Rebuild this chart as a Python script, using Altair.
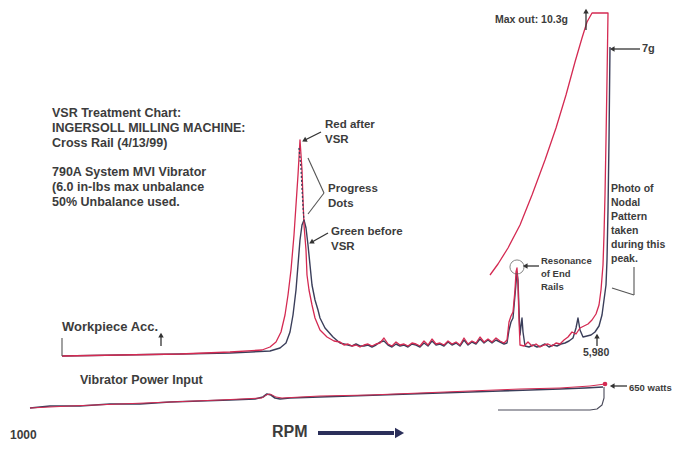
import math
import altair as alt
import pandas as pd

RED = "#d42a52"
DARK = "#3a3e5a"
INK = "#3c3c3c"
GREY = "#555555"

# ---------------- Workpiece acceleration, red trace (after VSR) ----------------
red_acc_x = [62, 120, 180, 230, 262, 270, 276, 281, 285, 288, 291, 294, 296, 298, 300,
             302, 303, 304, 306, 307, 309, 312, 315, 320, 327, 334,
             340, 344, 348, 352, 356, 360, 364, 368, 372, 376, 380, 384, 388, 392, 396, 400,
             404, 408, 412, 416, 420, 424, 428, 432, 436, 440, 444, 448, 452, 456, 460, 464,
             468, 472, 476, 480, 484, 488, 492, 496, 500, 504,
             507, 509, 511, 513, 515, 516, 517, 518, 519, 520, 524, 528, 532, 536, 540, 544,
             548, 552, 556, 560, 564, 568, 572, 576, 580, 584, 588, 592, 596, 599, 601, 603,
             604, 605, 606, 607, 608,
             592, 587, 582, 575, 566, 556, 545, 532, 520, 508, 498, 490]
red_acc_y = [356, 355, 354, 352, 350, 347, 342, 332, 315, 295, 270, 235, 205, 175, 140,
             170, 200, 225, 250, 275, 290, 305, 318, 330, 337, 341,
             342, 345, 344, 346, 345, 347, 345, 344, 346, 344, 343, 338, 344, 346, 342, 345,
             344, 346, 343, 344, 346, 341, 345, 339, 344, 343, 345, 341, 344, 342, 345, 338,
             344, 341, 343, 337, 342, 339, 342, 338, 341, 343,
             340, 322, 316, 312, 290, 272, 268, 285, 320, 345, 346, 342, 346, 344, 347, 345,
             344, 346, 343, 344, 340, 337, 332, 334, 328, 326, 324, 320, 314, 305, 290, 265,
             235, 195, 140, 80, 13,
             13, 22, 38, 62, 95, 128, 160, 195, 225, 248, 264, 275]

# ---------------- Workpiece acceleration, dark trace (before VSR) ----------------
dark_acc_x = [62, 120, 180, 230, 270, 280, 286, 290, 293, 296, 298, 300, 302, 304,
              306, 308, 310, 312, 315, 318, 320, 325, 333,
              340, 344, 348, 352, 356, 360, 364, 368, 372, 376, 380, 384, 388, 392, 396, 400,
              404, 408, 412, 416, 420, 424, 428, 432, 436, 440, 444, 448, 452, 456, 460, 464,
              468, 472, 476, 480, 484, 488, 492, 496, 500, 504,
              507, 509, 511, 513, 515, 517, 518, 519, 520, 521, 522, 523, 525, 529, 533, 537,
              541, 545, 549, 553, 557, 561, 565, 569, 573, 576, 578, 580, 583, 587, 591, 595,
              599, 602, 604, 606, 607, 608, 609, 610]
dark_acc_y = [356, 355, 354, 353, 351, 348, 343, 332, 315, 290, 265, 240, 225, 220,
              228, 245, 265, 285, 300, 310, 318, 328, 337,
              343, 344, 345, 346, 344, 346, 346, 345, 347, 345, 342, 341, 345, 347, 344, 346,
              345, 347, 344, 345, 347, 343, 346, 341, 345, 344, 346, 342, 345, 343, 346, 340,
              345, 342, 344, 339, 343, 340, 343, 340, 342, 344,
              343, 330, 322, 318, 295, 272, 280, 310, 335, 326, 318, 332, 346, 347, 345, 347,
              346, 344, 347, 345, 346, 344, 343, 341, 338, 328, 318, 330, 337, 336, 335, 332,
              326, 315, 300, 285, 260, 210, 140, 47]

# progress dots along the red peak
dots_x = [299, 301, 302, 303, 304]
dots_y = [148, 168, 188, 206, 222]

# ---------------- Vibrator power input ----------------
red_pw_x = [30, 70, 120, 170, 220, 262, 266, 270, 276, 282, 320, 370, 420, 470, 520, 560, 590, 605]
red_pw_y = [408, 406, 404, 402, 400, 398, 395, 394, 397, 398, 396, 395, 393, 391, 389, 388, 386, 384]
dark_pw_x = [30, 50, 80, 110, 140, 170, 200, 230, 255, 263, 267, 271, 275, 280, 290, 320, 350,
             380, 410, 440, 470, 500, 530, 560, 585, 603]
dark_pw_y = [408, 406, 406, 404, 404, 402, 401, 400, 399, 397, 394, 395, 398, 399, 398, 397, 396,
             395, 394, 393, 392, 391, 390, 389, 388, 387]
hook_x = [604, 604, 602, 597, 590, 498]
hook_y = [387, 398, 405, 409, 410, 410]

# ---------------- Labels ----------------
label_text = ["VSR Treatment Chart:", "INGERSOLL MILLING MACHINE:", "Cross Rail (4/13/99)",
              "790A System MVI Vibrator", "(6.0 in-lbs max unbalance", "50% Unbalance used.",
              "Red after", "VSR", "Progress", "Dots", "Green before", "VSR",
              "Max out: 10.3g", "7g",
              "Photo of", "Nodal", "Pattern", "taken", "during this", "peak.",
              "Resonance", "of End", "Rails",
              "Workpiece Acc.", "5,980", "Vibrator Power Input", "650 watts", "RPM", "1000"]
label_x = [52, 52, 52, 52, 52, 52,
           325, 325, 328, 328, 331, 331,
           495, 642,
           611, 611, 611, 611, 611, 611,
           541, 541, 541,
           62, 583, 80, 629, 272, 10]
label_y = [113, 128, 143, 172, 187, 202,
           125, 140, 189, 204, 232, 247,
           20, 49,
           189, 203, 217, 231, 245, 259,
           261, 274, 287,
           327, 353, 380, 388, 432, 435]
label_size = [12.5, 12.5, 12.5, 12.5, 12.5, 12.5,
              11.5, 11.5, 11.5, 11.5, 11.5, 11.5,
              10.5, 11,
              10.5, 10.5, 10.5, 10.5, 10.5, 10.5,
              9.5, 9.5, 9.5,
              13, 10.5, 12.5, 9.5, 16, 12]

# plain annotation segments (brackets, braces)
seg_x0 = [62, 308, 324, 634, 634]
seg_y0 = [338, 158, 193, 267, 295]
seg_x1 = [62, 324, 308, 634, 612]
seg_y1 = [356, 193, 214, 295, 288]

# arrows: shaft start -> head
arrow_x0 = [321, 328, 161, 586, 640, 539, 597, 627]
arrow_y0 = [132, 233, 346, 30, 49, 266, 346, 386]
arrow_x1 = [305, 312, 161, 586, 613, 526, 597, 613]
arrow_y1 = [140, 242, 336, 12, 49, 266, 337, 386]

# ---------------- Build ----------------
xs = alt.Scale(domain=[8, 672], nice=False, zero=False)
ys = alt.Scale(domain=[8, 442], nice=False, zero=False, reverse=True)
X = alt.X("x:Q", scale=xs, axis=None)
Y = alt.Y("y:Q", scale=ys, axis=None)


def path(xv, yv):
    return pd.DataFrame({"x": xv, "y": yv, "i": list(range(len(xv)))})


def line(xv, yv, color, width, dash=None):
    kw = dict(color=color, strokeWidth=width, strokeJoin="round", clip=False)
    if dash is not None:
        kw["strokeDash"] = dash
    return alt.Chart(path(xv, yv)).mark_line(**kw).encode(x=X, y=Y, order="i:Q")


def head_angle(x0, y0, x1, y1):
    return (math.degrees(math.atan2(x1 - x0, -(y1 - y0))) + 360) % 360


layers = []
layers.append(line(dark_pw_x, dark_pw_y, DARK, 1.7))
layers.append(line(red_pw_x, red_pw_y, RED, 1.0))
layers.append(line(hook_x, hook_y, "#4a4a5a", 1.1))
layers.append(line(dark_acc_x, dark_acc_y, DARK, 1.4))
layers.append(line(red_acc_x, red_acc_y, RED, 1.3))
layers.append(line(dots_x, dots_y, DARK, 1.3, [2, 2]))

dot_df = pd.DataFrame({"x": [red_pw_x[-1]], "y": [red_pw_y[-1]]})
layers.append(alt.Chart(dot_df).mark_point(filled=True, color=RED, size=22, opacity=1).encode(x=X, y=Y))

circ_df = pd.DataFrame({"x": [517], "y": [267]})
layers.append(alt.Chart(circ_df).mark_point(shape="circle", filled=False, color=GREY,
                                             size=200, strokeWidth=1).encode(x=X, y=Y))

seg_df = pd.DataFrame({"x": seg_x0, "y": seg_y0, "x2": seg_x1, "y2": seg_y1})
layers.append(alt.Chart(seg_df).mark_rule(color=GREY, strokeWidth=1.1).encode(
    x=X, y=Y, x2="x2:Q", y2="y2:Q"))

arr_df = pd.DataFrame({"x": arrow_x0, "y": arrow_y0, "x2": arrow_x1, "y2": arrow_y1})
layers.append(alt.Chart(arr_df).mark_rule(color="#333333", strokeWidth=1.3).encode(
    x=X, y=Y, x2="x2:Q", y2="y2:Q"))
head_df = pd.DataFrame({"x": arrow_x1, "y": arrow_y1,
                        "a": [head_angle(a, b, c, d) for a, b, c, d in
                              zip(arrow_x0, arrow_y0, arrow_x1, arrow_y1)]})
layers.append(alt.Chart(head_df).mark_point(shape="triangle", filled=True, color="#333333",
                                             size=30, opacity=1).encode(
    x=X, y=Y, angle=alt.Angle("a:Q", scale=None)))

# RPM arrow
rpm_df = pd.DataFrame({"x": [318], "y": [433], "x2": [394], "y2": [433]})
layers.append(alt.Chart(rpm_df).mark_rule(color="#2b2f5a", strokeWidth=4).encode(
    x=X, y=Y, x2="x2:Q", y2="y2:Q"))
rpm_head = pd.DataFrame({"x": [398], "y": [433], "a": [90]})
layers.append(alt.Chart(rpm_head).mark_point(shape="triangle", filled=True, color="#2b2f5a",
                                              size=110, opacity=1).encode(
    x=X, y=Y, angle=alt.Angle("a:Q", scale=None)))

lbl_df = pd.DataFrame({"x": label_x, "y": label_y, "t": label_text, "s": label_size})
layers.append(alt.Chart(lbl_df).mark_text(align="left", baseline="middle",
                                          font="Liberation Sans", fontWeight="bold",
                                          color=INK).encode(
    x=X, y=Y, text="t:N", size=alt.Size("s:Q", scale=None)))

chart = alt.layer(*layers).properties(
    width=664, height=434,
    autosize=alt.AutoSizeParams(type="none"),
    padding=0,
    background="white",
).configure_view(stroke=None)

chart.save("out.html", embed_options={"renderer": "svg", "actions": False})
